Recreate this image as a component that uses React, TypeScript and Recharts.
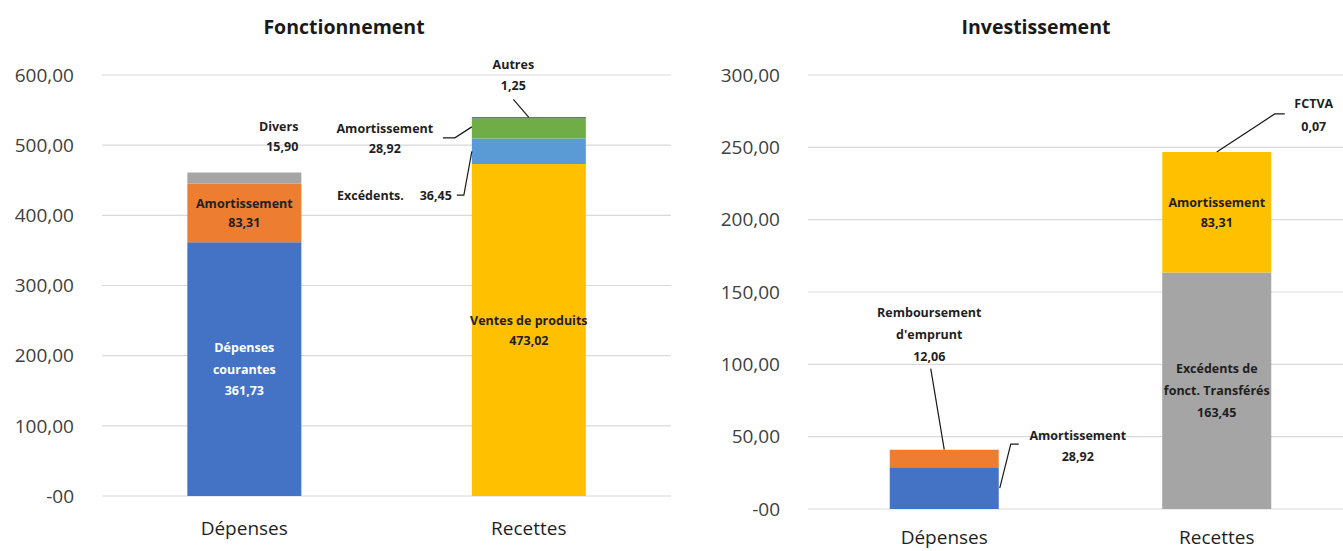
import React from "react";
import { BarChart, Bar, XAxis, YAxis, CartesianGrid, Cell, LabelList } from "recharts";

const categories = ["Dépenses", "Recettes"];

// Fonctionnement, layers from bottom to top
const fonctLayer1 = [361.73, 473.02];
const fonctLayer2 = [83.31, 36.45];
const fonctLayer3 = [15.9, 28.92];
const fonctLayer4 = [0, 1.25];
const fonctNames1 = ["Dépenses\ncourantes", "Ventes de produits"];
const fonctNames2 = ["Amortissement", "Excédents."];
const fonctNames3 = ["Divers", "Amortissement"];
const fonctNames4 = ["", "Autres"];
const fonctTicks = [0, 100, 200, 300, 400, 500, 600];

// Investissement, layers from bottom to top
const investLayer1 = [28.92, 163.45];
const investLayer2 = [12.06, 83.31];
const investLayer3 = [0, 0.07];
const investNames1 = ["Amortissement", "Excédents de\nfonct. Transférés"];
const investNames2 = ["Remboursement\nd'emprunt", "Amortissement"];
const investNames3 = ["", "FCTVA"];
const investTicks = [0, 50, 100, 150, 200, 250, 300];

const FONT = "'Open Sans', sans-serif";
const INK = "#1f1f1f";

const fonctColors = [
  ["#4472C4", "#FFC000"],
  ["#ED7D31", "#5B9BD5"],
  ["#A5A5A5", "#70AD47"],
  ["#A5A5A5", "#264478"],
];
const investColors = [
  ["#4472C4", "#A5A5A5"],
  ["#ED7D31", "#FFC000"],
  ["#A5A5A5", "#5B9BD5"],
];

const fmt = (v: number) => v.toFixed(2).replace(".", ",");
const axisFmt = (v: number) => (v === 0 ? "-00" : fmt(v));

const fonctData = categories.map((name, i) => ({
  name,
  l1: fonctLayer1[i],
  l2: fonctLayer2[i],
  l3: fonctLayer3[i],
  l4: fonctLayer4[i],
}));

const investData = categories.map((name, i) => ({
  name,
  l1: investLayer1[i],
  l2: investLayer2[i],
  l3: investLayer3[i],
}));

// multi-line label, each row given by its vertical centre
function Rows({ x, y, rows, gap, anchor = "middle", fill = INK }: any) {
  return (
    <text textAnchor={anchor} fill={fill} fontSize={12.5} fontWeight={700} fontFamily={FONT}>
      {rows.map((r: string, i: number) => (
        <tspan key={i} x={x} y={y + i * gap + 4.5}>
          {r}
        </tspan>
      ))}
    </text>
  );
}

const Leader = ({ pts }: { pts: number[][] }) => (
  <polyline points={pts.map((p) => p.join(",")).join(" ")} fill="none" stroke="#1a1a1a" strokeWidth={1.2} />
);

// LabelLists use the category name as value, so the index is read from it
const catOf = (p: any) => categories.indexOf(String(p.value));

const box = (p: any) => {
  const vb = p.viewBox && p.viewBox.width != null ? p.viewBox : p;
  const x = Number(vb.x), y = Number(vb.y), w = Number(vb.width), h = Number(vb.height);
  return { x, y, w, h, cx: x + w / 2, mid: y + h / 2 };
};

const rowsOf = (name: string, v: number) => [...name.split("\n"), fmt(v)];

const inside = (p: any, name: string, v: number, gap: number, fill = INK) => {
  const b = box(p);
  const rows = rowsOf(name, v);
  return <Rows x={b.cx} y={b.mid - ((rows.length - 1) * gap) / 2} rows={rows} gap={gap} fill={fill} />;
};

// ---------- Fonctionnement labels ----------
const fonct1 = (p: any) => {
  const i = catOf(p);
  return i === 0
    ? inside(p, fonctNames1[0], fonctLayer1[0], 21.5, "#ffffff")
    : inside(p, fonctNames1[1], fonctLayer1[1], 20);
};

const fonct2 = (p: any) => {
  if (catOf(p) === 0) return inside(p, fonctNames2[0], fonctLayer2[0], 19);
  const b = box(p);
  const yc = b.y + b.h + 31;
  return (
    <g>
      <Rows x={b.x - 68} y={yc} rows={[fonctNames2[1]]} gap={0} anchor="end" />
      <Rows x={b.x - 20} y={yc} rows={[fmt(fonctLayer2[1])]} gap={0} anchor="end" />
      <Leader pts={[[b.x - 15, yc], [b.x - 8, yc], [b.x, b.mid]]} />
    </g>
  );
};

const fonct3 = (p: any) => {
  const b = box(p);
  if (catOf(p) === 0) {
    return <Rows x={b.x + b.w - 3} y={b.y - 46} rows={rowsOf(fonctNames3[0], fonctLayer3[0])} gap={20} anchor="end" />;
  }
  return (
    <g>
      <Rows x={b.x - 87} y={b.mid + 0.5} rows={rowsOf(fonctNames3[1], fonctLayer3[1])} gap={20} />
      <Leader pts={[[b.x - 29, b.mid + 9.5], [b.x - 17, b.mid + 9.5], [b.x, b.mid - 1.5]]} />
    </g>
  );
};

const fonct4 = (p: any) => {
  if (catOf(p) !== 1) return null;
  const b = box(p);
  return (
    <g>
      <Rows x={b.cx - 15.5} y={b.y - 53} rows={rowsOf(fonctNames4[1], fonctLayer4[1])} gap={21} />
      <Leader pts={[[b.cx - 15.5, b.y - 18], [b.cx, b.y]]} />
    </g>
  );
};

// ---------- Investissement labels ----------
const invest1 = (p: any) => {
  if (catOf(p) === 1) return inside(p, investNames1[1], investLayer1[1], 22);
  const b = box(p);
  const r = b.x + b.w;
  return (
    <g>
      <Rows x={r + 79} y={b.mid - 53} rows={rowsOf(investNames1[0], investLayer1[0])} gap={21} />
      <Leader pts={[[r + 20, b.mid - 44], [r + 12, b.mid - 44], [r + 1, b.mid]]} />
    </g>
  );
};

const invest2 = (p: any) => {
  if (catOf(p) === 1) return inside(p, investNames2[1], investLayer2[1], 20);
  const b = box(p);
  return (
    <g>
      <Rows x={b.cx - 15} y={b.y - 137} rows={rowsOf(investNames2[0], investLayer2[0])} gap={22} />
      <Leader pts={[[b.cx - 13.5, b.y - 81], [b.cx, b.y]]} />
    </g>
  );
};

const invest3 = (p: any) => {
  if (catOf(p) !== 1) return null;
  const b = box(p);
  return (
    <g>
      <Rows x={b.cx + 97} y={b.y - 48} rows={rowsOf(investNames3[1], investLayer3[1])} gap={23} />
      <Leader pts={[[b.cx + 68, b.y - 38], [b.cx + 58, b.y - 38], [b.cx, b.y]]} />
    </g>
  );
};

const yTick = { fill: "#404040", fontSize: 19, fontFamily: FONT };
const xTick = { fill: "#1f1f1f", fontSize: 19, fontFamily: FONT };

const titleStyle: React.CSSProperties = {
  position: "absolute",
  top: 13,
  width: 400,
  textAlign: "center",
  fontFamily: FONT,
  fontWeight: 700,
  fontSize: 19.5,
  lineHeight: "28px",
  color: "#1a1a1a",
};

export default function App() {
  return (
    <div
      style={{
        position: "absolute",
        left: 0,
        top: 0,
        width: 1343,
        height: 551,
        overflow: "hidden",
        background: "#ffffff",
        fontFamily: FONT,
      }}
    >
      <div style={{ ...titleStyle, left: 344 - 200 }}>Fonctionnement</div>
      <div style={{ ...titleStyle, left: 1036 - 200 }}>Investissement</div>

      <div style={{ position: "absolute", left: 0, top: 0 }}>
        <BarChart width={680} height={551} data={fonctData} margin={{ top: 75, right: 9, bottom: 0, left: 0 }} barCategoryGap="30%">
          <CartesianGrid vertical={false} stroke="#d9d9d9" strokeWidth={1.2} />
          <XAxis dataKey="name" height={55} axisLine={false} tickLine={false} tickSize={0} tickMargin={26} tick={xTick} />
          <YAxis
            width={102}
            domain={[0, 600]}
            ticks={fonctTicks}
            axisLine={false}
            tickLine={false}
            tickSize={0}
            tickMargin={28}
            tick={yTick}
            tickFormatter={axisFmt}
          />
          <Bar dataKey="l1" stackId="a" isAnimationActive={false}>
            {fonctData.map((_, i) => <Cell key={i} fill={fonctColors[0][i]} />)}
            <LabelList dataKey="name" content={fonct1} />
          </Bar>
          <Bar dataKey="l2" stackId="a" isAnimationActive={false}>
            {fonctData.map((_, i) => <Cell key={i} fill={fonctColors[1][i]} />)}
            <LabelList dataKey="name" content={fonct2} />
          </Bar>
          <Bar dataKey="l3" stackId="a" isAnimationActive={false}>
            {fonctData.map((_, i) => <Cell key={i} fill={fonctColors[2][i]} />)}
            <LabelList dataKey="name" content={fonct3} />
          </Bar>
          <Bar dataKey="l4" stackId="a" isAnimationActive={false}>
            {fonctData.map((_, i) => <Cell key={i} fill={fonctColors[3][i]} />)}
            <LabelList dataKey="name" content={fonct4} />
          </Bar>
        </BarChart>
      </div>

      <div style={{ position: "absolute", left: 680, top: 0 }}>
        <BarChart width={680} height={551} data={investData} margin={{ top: 75, right: 7, bottom: 0, left: 0 }} barCategoryGap="30%">
          <CartesianGrid vertical={false} stroke="#d9d9d9" strokeWidth={1.2} />
          <XAxis dataKey="name" height={42} axisLine={false} tickLine={false} tickSize={0} tickMargin={22} tick={xTick} />
          <YAxis
            width={128}
            domain={[0, 300]}
            ticks={investTicks}
            axisLine={false}
            tickLine={false}
            tickSize={0}
            tickMargin={28}
            tick={yTick}
            tickFormatter={axisFmt}
          />
          <Bar dataKey="l1" stackId="a" isAnimationActive={false}>
            {investData.map((_, i) => <Cell key={i} fill={investColors[0][i]} />)}
            <LabelList dataKey="name" content={invest1} />
          </Bar>
          <Bar dataKey="l2" stackId="a" isAnimationActive={false}>
            {investData.map((_, i) => <Cell key={i} fill={investColors[1][i]} />)}
            <LabelList dataKey="name" content={invest2} />
          </Bar>
          <Bar dataKey="l3" stackId="a" isAnimationActive={false}>
            {investData.map((_, i) => <Cell key={i} fill={investColors[2][i]} />)}
            <LabelList dataKey="name" content={invest3} />
          </Bar>
        </BarChart>
      </div>
    </div>
  );
}
